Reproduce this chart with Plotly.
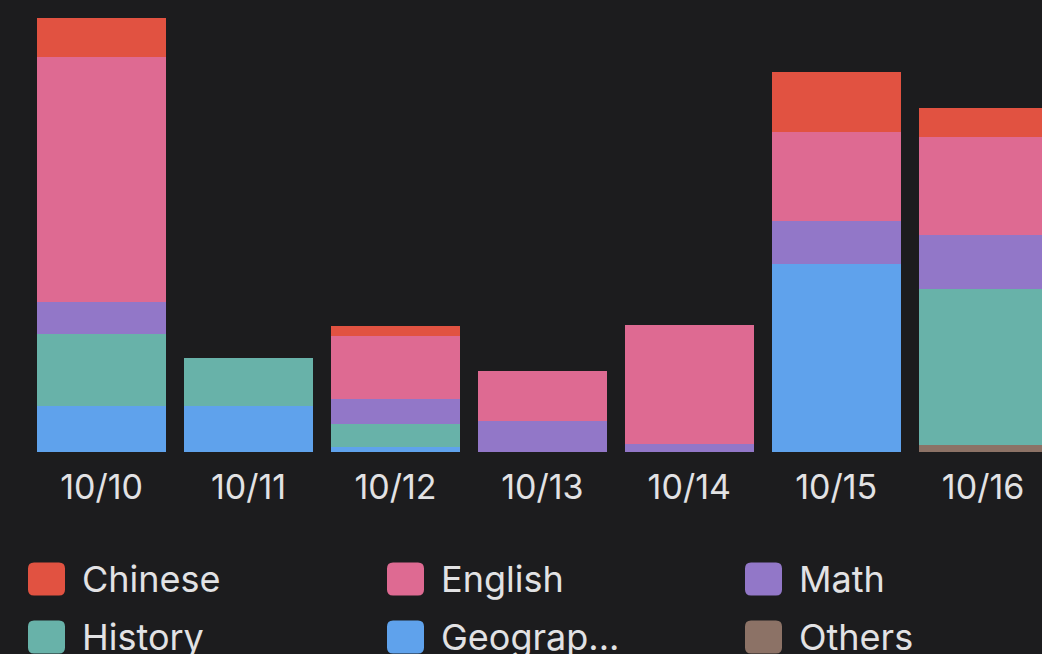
import plotly.graph_objects as go

# ---- data ----
dates = ["10/10", "10/11", "10/12", "10/13", "10/14", "10/15", "10/16"]
chinese = [9.8, 0, 2.5, 0, 0, 15.1, 7.3]
english = [61.3, 0, 15.8, 12.5, 29.8, 22.3, 24.6]
math = [8.1, 0, 6.1, 7.7, 1.9, 10.8, 13.5]
history = [18.0, 12.0, 5.8, 0, 0, 0, 39.0]
geography = [11.4, 11.6, 1.3, 0, 0, 46.9, 0]
others = [0, 0, 0, 0, 0, 0, 1.7]

subjects = ["Chinese", "English", "Math", "History", "Geography", "Others"]
legend_labels = ["Chinese", "English", "Math", "History", "Geograp...", "Others"]
colors = ["#e15241", "#de6a92", "#9277c8", "#68b2a9", "#5fa2ec", "#8c7266"]
series = [chinese, english, math, history, geography, others]

BG = "#1c1c1e"
TXT = "#e2e2e4"

fig = go.Figure()
# stack from bottom: Others, Geography, History, Math, English, Chinese
for name, vals, col in reversed(list(zip(subjects, series, colors))):
    fig.add_trace(go.Bar(
        x=dates, y=vals, name=name,
        marker=dict(color=col, line=dict(width=0)),
        showlegend=False,
    ))

H_PLOT = 452  # plot area height in px (top margin 0)

# manual legend (3 columns x 2 rows)
col_x = [28, 387, 745]
row_y = [579, 637]
sw, sh, r = 37, 33, 6
for i, (lab, col) in enumerate(zip(legend_labels, colors)):
    cx = col_x[i % 3]
    cy = row_y[i // 3]
    xa = (cx + sw / 2) / 1042
    ya = (H_PLOT - cy) / H_PLOT
    hw, hh = sw / 2, sh / 2
    path = (f"M{-hw + r},{-hh} L{hw - r},{-hh} Q{hw},{-hh} {hw},{-hh + r} "
            f"L{hw},{hh - r} Q{hw},{hh} {hw - r},{hh} L{-hw + r},{hh} "
            f"Q{-hw},{hh} {-hw},{hh - r} L{-hw},{-hh + r} Q{-hw},{-hh} {-hw + r},{-hh} Z")
    fig.add_shape(type="path", xref="paper", yref="paper",
                  xsizemode="pixel", ysizemode="pixel",
                  xanchor=xa, yanchor=ya, path=path,
                  fillcolor=col, line=dict(width=0), layer="above")
    fig.add_annotation(x=(cx + 52) / 1042, y=ya, xref="paper", yref="paper",
                       text=lab, showarrow=False, xanchor="left", yanchor="middle",
                       font=dict(family="Inter", size=36, color=TXT))

fig.update_layout(
    width=1042, height=654,
    margin=dict(l=0, r=0, t=0, b=654 - H_PLOT),
    paper_bgcolor=BG, plot_bgcolor=BG,
    barmode="stack", bargap=0.122,
    xaxis=dict(type="category", range=[-0.692, 6.401], showgrid=False,
               zeroline=False, showline=False, ticks="",
               tickfont=dict(family="Inter", size=34, color=TXT),
               ticklabelstandoff=12),
    yaxis=dict(range=[0, 113], visible=False, showgrid=False, zeroline=False),
    showlegend=False,
)

fig.write_html(
    "out.html",
    config={"displayModeBar": False},
    post_script="document.body.style.margin='0';document.body.style.background='#1c1c1e';",
)
